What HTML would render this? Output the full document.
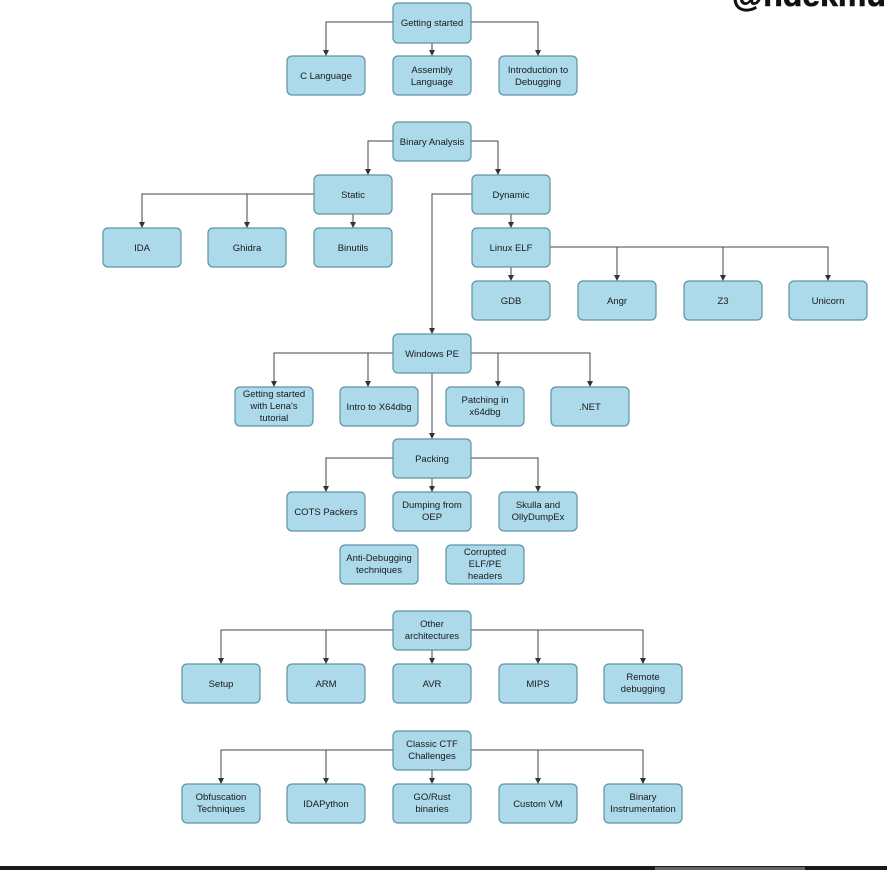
<!DOCTYPE html>
<html><head><meta charset="utf-8"><style>
html,body{margin:0;padding:0;background:#fff;}
svg{display:block;}
text{font-family:"Liberation Sans",sans-serif;font-size:9.5px;fill:#1a1a1a;text-anchor:middle;}
rect.b{fill:#acdaeb;stroke:#5f92a6;stroke-width:1.2;}
path.l{fill:none;stroke:#444;stroke-width:1;}
</style></head><body>
<svg width="887" height="870" viewBox="0 0 887 870" xmlns="http://www.w3.org/2000/svg">
<defs>
<marker id="d" markerWidth="6" markerHeight="6" refX="3" refY="6" markerUnits="userSpaceOnUse"><path d="M0,0 L6,0 L3,6z" fill="#333"/></marker></defs>
<text x="732" y="6" style="font-size:32px;font-weight:bold;text-anchor:start;fill:#111;stroke:#111;stroke-width:0.6">@ndekmu</text>
<g>
<path class="l" marker-end="url(#d)" d="M393,22 H326 V56"/>
<path class="l" marker-end="url(#d)" d="M432,42 V56"/>
<path class="l" marker-end="url(#d)" d="M471,22 H538 V56"/>
<path class="l" marker-end="url(#d)" d="M393,141 H368 V175"/>
<path class="l" marker-end="url(#d)" d="M471,141 H498 V175"/>
<path class="l" marker-end="url(#d)" d="M314,194 H142 V228"/>
<path class="l" marker-end="url(#d)" d="M247,194 V228"/>
<path class="l" marker-end="url(#d)" d="M353,214 V228"/>
<path class="l" marker-end="url(#d)" d="M472,194 H432 V334"/>
<path class="l" marker-end="url(#d)" d="M511,214 V228"/>
<path class="l" marker-end="url(#d)" d="M511,267 V281"/>
<path class="l" marker-end="url(#d)" d="M550,247 H828 V281"/>
<path class="l" marker-end="url(#d)" d="M617,247 V281"/>
<path class="l" marker-end="url(#d)" d="M723,247 V281"/>
<path class="l" marker-end="url(#d)" d="M393,353 H274 V387"/>
<path class="l" marker-end="url(#d)" d="M368,353 V387"/>
<path class="l" marker-end="url(#d)" d="M471,353 H590 V387"/>
<path class="l" marker-end="url(#d)" d="M498,353 V387"/>
<path class="l" marker-end="url(#d)" d="M432,373 V439"/>
<path class="l" marker-end="url(#d)" d="M393,458 H326 V492"/>
<path class="l" marker-end="url(#d)" d="M471,458 H538 V492"/>
<path class="l" marker-end="url(#d)" d="M432,478 V492"/>
<path class="l" marker-end="url(#d)" d="M393,630 H221 V664"/>
<path class="l" marker-end="url(#d)" d="M326,630 V664"/>
<path class="l" marker-end="url(#d)" d="M471,630 H643 V664"/>
<path class="l" marker-end="url(#d)" d="M538,630 V664"/>
<path class="l" marker-end="url(#d)" d="M432,650 V664"/>
<path class="l" marker-end="url(#d)" d="M393,750 H221 V784"/>
<path class="l" marker-end="url(#d)" d="M326,750 V784"/>
<path class="l" marker-end="url(#d)" d="M471,750 H643 V784"/>
<path class="l" marker-end="url(#d)" d="M538,750 V784"/>
<path class="l" marker-end="url(#d)" d="M432,770 V784"/>
</g>
<g>
<rect class="b" x="393" y="3" width="78" height="40" rx="5"/><text x="432" y="26">Getting started</text>
<rect class="b" x="287" y="56" width="78" height="39" rx="5"/><text x="326" y="79">C Language</text>
<rect class="b" x="393" y="56" width="78" height="39" rx="5"/><text x="432" y="73">Assembly</text><text x="432" y="85">Language</text>
<rect class="b" x="499" y="56" width="78" height="39" rx="5"/><text x="538" y="73">Introduction to</text><text x="538" y="85">Debugging</text>
<rect class="b" x="393" y="122" width="78" height="39" rx="5"/><text x="432" y="145">Binary Analysis</text>
<rect class="b" x="314" y="175" width="78" height="39" rx="5"/><text x="353" y="198">Static</text>
<rect class="b" x="472" y="175" width="78" height="39" rx="5"/><text x="511" y="198">Dynamic</text>
<rect class="b" x="103" y="228" width="78" height="39" rx="5"/><text x="142" y="251">IDA</text>
<rect class="b" x="208" y="228" width="78" height="39" rx="5"/><text x="247" y="251">Ghidra</text>
<rect class="b" x="314" y="228" width="78" height="39" rx="5"/><text x="353" y="251">Binutils</text>
<rect class="b" x="472" y="228" width="78" height="39" rx="5"/><text x="511" y="251">Linux ELF</text>
<rect class="b" x="472" y="281" width="78" height="39" rx="5"/><text x="511" y="304">GDB</text>
<rect class="b" x="578" y="281" width="78" height="39" rx="5"/><text x="617" y="304">Angr</text>
<rect class="b" x="684" y="281" width="78" height="39" rx="5"/><text x="723" y="304">Z3</text>
<rect class="b" x="789" y="281" width="78" height="39" rx="5"/><text x="828" y="304">Unicorn</text>
<rect class="b" x="393" y="334" width="78" height="39" rx="5"/><text x="432" y="357">Windows PE</text>
<rect class="b" x="235" y="387" width="78" height="39" rx="5"/><text x="274" y="397">Getting started</text><text x="274" y="409">with Lena's</text><text x="274" y="421">tutorial</text>
<rect class="b" x="340" y="387" width="78" height="39" rx="5"/><text x="379" y="410">Intro to X64dbg</text>
<rect class="b" x="446" y="387" width="78" height="39" rx="5"/><text x="485" y="403">Patching in</text><text x="485" y="415">x64dbg</text>
<rect class="b" x="551" y="387" width="78" height="39" rx="5"/><text x="590" y="410">.NET</text>
<rect class="b" x="393" y="439" width="78" height="39" rx="5"/><text x="432" y="462">Packing</text>
<rect class="b" x="287" y="492" width="78" height="39" rx="5"/><text x="326" y="515">COTS Packers</text>
<rect class="b" x="393" y="492" width="78" height="39" rx="5"/><text x="432" y="508">Dumping from</text><text x="432" y="520">OEP</text>
<rect class="b" x="499" y="492" width="78" height="39" rx="5"/><text x="538" y="508">Skulla and</text><text x="538" y="520">OllyDumpEx</text>
<rect class="b" x="340" y="545" width="78" height="39" rx="5"/><text x="379" y="561">Anti-Debugging</text><text x="379" y="573">techniques</text>
<rect class="b" x="446" y="545" width="78" height="39" rx="5"/><text x="485" y="555">Corrupted</text><text x="485" y="567">ELF/PE</text><text x="485" y="579">headers</text>
<rect class="b" x="393" y="611" width="78" height="39" rx="5"/><text x="432" y="627">Other</text><text x="432" y="639">architectures</text>
<rect class="b" x="182" y="664" width="78" height="39" rx="5"/><text x="221" y="687">Setup</text>
<rect class="b" x="287" y="664" width="78" height="39" rx="5"/><text x="326" y="687">ARM</text>
<rect class="b" x="393" y="664" width="78" height="39" rx="5"/><text x="432" y="687">AVR</text>
<rect class="b" x="499" y="664" width="78" height="39" rx="5"/><text x="538" y="687">MIPS</text>
<rect class="b" x="604" y="664" width="78" height="39" rx="5"/><text x="643" y="680">Remote</text><text x="643" y="692">debugging</text>
<rect class="b" x="393" y="731" width="78" height="39" rx="5"/><text x="432" y="747">Classic CTF</text><text x="432" y="759">Challenges</text>
<rect class="b" x="182" y="784" width="78" height="39" rx="5"/><text x="221" y="800">Obfuscation</text><text x="221" y="812">Techniques</text>
<rect class="b" x="287" y="784" width="78" height="39" rx="5"/><text x="326" y="807">IDAPython</text>
<rect class="b" x="393" y="784" width="78" height="39" rx="5"/><text x="432" y="800">GO/Rust</text><text x="432" y="812">binaries</text>
<rect class="b" x="499" y="784" width="78" height="39" rx="5"/><text x="538" y="807">Custom VM</text>
<rect class="b" x="604" y="784" width="78" height="39" rx="5"/><text x="643" y="800">Binary</text><text x="643" y="812">Instrumentation</text>
</g>
<rect x="0" y="866" width="887" height="4" fill="#1a1a1a"/>
<rect x="655" y="867" width="150" height="3" fill="#666"/>
</svg>
</body></html>
